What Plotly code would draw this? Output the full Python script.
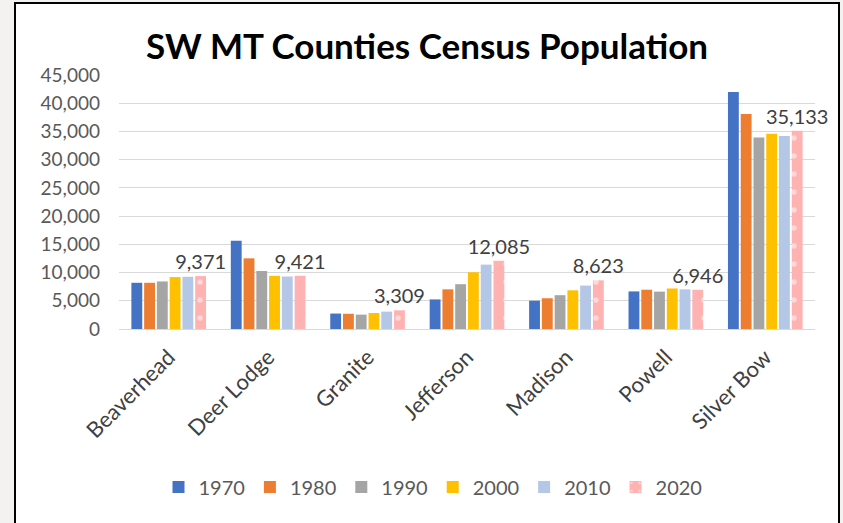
import plotly.graph_objects as go

counties = ["Beaverhead", "Deer Lodge", "Granite", "Jefferson", "Madison", "Powell", "Silver Bow"]
years = ["1970", "1980", "1990", "2000", "2010", "2020"]
pop_1970 = [8187, 15652, 2737, 5238, 5014, 6660, 41981]
pop_1980 = [8186, 12518, 2700, 7029, 5448, 6958, 38092]
pop_1990 = [8424, 10278, 2548, 7939, 5989, 6620, 33941]
pop_2000 = [9202, 9417, 2830, 10049, 6851, 7180, 34606]
pop_2010 = [9246, 9298, 3079, 11406, 7691, 7027, 34200]
pop_2020 = [9371, 9421, 3309, 12085, 8623, 6946, 35133]
series = [pop_1970, pop_1980, pop_1990, pop_2000, pop_2010, pop_2020]
colors = ["#4472C4", "#ED7D31", "#A5A5A5", "#FFC000", "#B4C7E7", "#FFB2B2"]

W, H = 843, 523
L, R, T, B = 119, 28, 75, 194
pw, ph = W - L - R, H - T - B

FONT = "Lato"

fig = go.Figure()
for yr, vals, col in zip(years, series, colors):
    kw = {}
    if yr == "2020":
        kw = dict(
            text=[f"{v:,}" for v in vals],
            textposition="outside",
            textfont=dict(family=FONT, size=20, color="#404040"),
            cliponaxis=False,
            constraintext="none",
        )
        marker = dict(color=col, line=dict(width=0),
                      pattern=dict(shape=".", fillmode="overlay", fgcolor="white",
                                   size=18, solidity=0.07))
    else:
        marker = dict(color=col, line=dict(width=0))
    fig.add_trace(go.Bar(name=yr, x=counties, y=vals, marker=marker, **kw))

def px_x(p):
    return (p - L) / pw

def px_y(p):
    return (H - B - p) / ph

fig.add_shape(type="rect", xref="paper", yref="paper",
              x0=px_x(15), x1=px_x(839), y0=px_y(560), y1=px_y(3),
              fillcolor="white", line=dict(color="black", width=2), layer="below")

fig.update_layout(
    width=W, height=H, autosize=False,
    margin=dict(l=L, r=R, t=T, b=B),
    paper_bgcolor="#f3f2f1",
    plot_bgcolor="rgba(0,0,0,0)",
    barmode="group",
    bargap=0.23,
    bargroupgap=0.15,
    font=dict(family=FONT),
    title=dict(text="<b>SW MT Counties Census Population</b>",
               x=427 / W, xanchor="center", y=1 - 47 / H, yanchor="middle",
               font=dict(family=FONT, size=35, color="#000000")),
    legend=dict(orientation="h", xref="container", yref="container",
                x=433 / W, xanchor="center", y=1 - 487 / H, yanchor="middle",
                font=dict(family=FONT, size=20, color="#595959"),
                bgcolor="rgba(0,0,0,0)"),
    showlegend=True,
)
fig.update_yaxes(range=[0, 45000], dtick=5000, tickformat=",d",
                 showgrid=True, gridcolor="#D9D9D9", gridwidth=1,
                 zeroline=True, zerolinecolor="#D9D9D9", zerolinewidth=1,
                 showline=False, ticks="", ticklabelstandoff=18,
                 tickfont=dict(family=FONT, size=19, color="#595959"))
fig.update_xaxes(tickangle=-45, showgrid=False, showline=False, ticks="",
                 ticklabelstandoff=10,
                 tickfont=dict(family=FONT, size=22, color="#404040"))

fig.write_html("out.html", config={"displayModeBar": False},
               post_script="document.body.style.margin='0';")
